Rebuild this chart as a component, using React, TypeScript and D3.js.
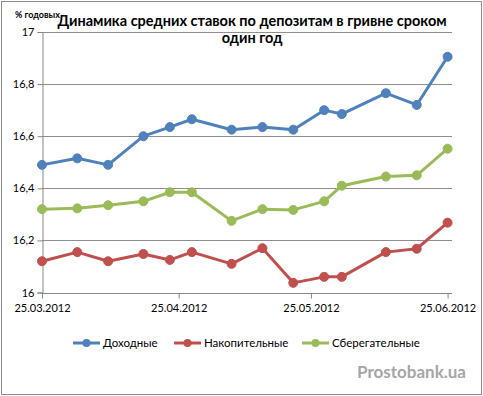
import { useRef, useEffect } from "react";
import * as d3 from "d3";

// dates of the observations (dd.mm.2012)
const dates = [
    "25.03.2012", "02.04.2012", "09.04.2012", "17.04.2012", "23.04.2012", "28.04.2012", "07.05.2012",
    "14.05.2012", "21.05.2012", "28.05.2012", "01.06.2012", "11.06.2012", "18.06.2012", "25.06.2012"
];
const dohodnye = [16.49, 16.515, 16.49, 16.60, 16.635, 16.665, 16.625, 16.635, 16.625, 16.70, 16.685, 16.765, 16.72, 16.905];
const nakopitelnye = [16.12, 16.155, 16.12, 16.148, 16.125, 16.155, 16.11, 16.17, 16.037, 16.06, 16.06, 16.155, 16.168, 16.268];
const sberegatelnye = [16.32, 16.323, 16.335, 16.35, 16.385, 16.385, 16.275, 16.32, 16.317, 16.35, 16.41, 16.445, 16.45, 16.552];

const seriesNames = ["Доходные", "Накопительные", "Сберегательные"];
const yTicks = [16, 16.2, 16.4, 16.6, 16.8, 17];
const xTickLabels = ["25.03.2012", "25.04.2012", "25.05.2012", "25.06.2012"];

const colors = ["#4F81BD", "#C0504D", "#9BBB59"];
const font = "Lato, 'Liberation Sans', sans-serif";

const parse = d3.timeParse("%d.%m.%Y");

const Chart = () => {
    const ref = useRef<HTMLDivElement>(null);

    useEffect(() => {
        const width = 483, height = 396;
        const left = 42, right = 452, top = 32, bottom = 292.5;

        const svg = d3.create("svg")
            .attr("width", width)
            .attr("height", height)
            .style("position", "absolute")
            .style("left", "0px")
            .style("top", "0px")
            .style("font-family", font);

        svg.append("rect")
            .attr("width", width).attr("height", height).attr("fill", "#fff");
        // chart area border
        svg.append("rect")
            .attr("x", 1.5).attr("y", 1.5)
            .attr("width", width - 3).attr("height", height - 3)
            .attr("fill", "none").attr("stroke", "#8c8c8c");

        const x = d3.scaleTime()
            .domain([parse("25.03.2012")!, parse("26.06.2012")!])
            .range([left, right]);
        const y = d3.scaleLinear().domain([16, 17]).range([bottom, top]);

        // gridlines
        svg.append("g")
            .selectAll("line")
            .data(yTicks.slice(1))
            .join("line")
            .attr("x1", left).attr("x2", right)
            .attr("y1", d => Math.round(y(d)) + 0.5).attr("y2", d => Math.round(y(d)) + 0.5)
            .attr("stroke", "#8e8e8e");

        // y axis
        const yAxis = svg.append("g").attr("transform", `translate(${left + 0.5},0)`)
            .call(d3.axisLeft(y).tickValues(yTicks).tickSize(5).tickPadding(3)
                .tickFormat(d => d3.format("")(+d).replace(".", ",")));
        yAxis.selectAll("path, line").attr("stroke", "#868686");
        yAxis.selectAll("text").attr("font-family", font).attr("font-size", 11).attr("fill", "#000");

        // x axis
        const xAxis = svg.append("g").attr("transform", `translate(0,${Math.round(bottom) + 0.5})`)
            .call(d3.axisBottom(x).tickValues(xTickLabels.map(d => parse(d)!)).tickSize(5).tickPadding(6)
                .tickFormat(d => d3.timeFormat("%d.%m.%Y")(d as Date)));
        xAxis.select("path").attr("d", `M${left},0H${right}`);
        xAxis.selectAll("path, line").attr("stroke", "#868686");
        xAxis.selectAll("text").attr("font-family", font).attr("font-size", 11).attr("fill", "#000");

        const xs = dates.map(d => parse(d)!);
        const line = d3.line<number>()
            .x((_, i) => x(xs[i]))
            .y(d => y(d));

        [dohodnye, nakopitelnye, sberegatelnye].forEach((values, s) => {
            const g = svg.append("g");
            g.append("path")
                .attr("d", line(values))
                .attr("fill", "none")
                .attr("stroke", colors[s])
                .attr("stroke-width", 3)
                .attr("stroke-linejoin", "round");
            g.selectAll("circle")
                .data(values)
                .join("circle")
                .attr("cx", (_, i) => x(xs[i]))
                .attr("cy", d => y(d))
                .attr("r", 4.5)
                .attr("fill", colors[s])
                .attr("stroke", colors[s])
                .attr("stroke-width", 1);
        });

        // titles
        svg.append("text")
            .attr("x", 15).attr("y", 18)
            .attr("font-size", 9).attr("font-weight", "bold")
            .text("% годовых");
        const title = svg.append("text")
            .attr("text-anchor", "middle")
            .attr("font-size", 14.5).attr("font-weight", "bold");
        title.append("tspan").attr("x", 252).attr("y", 26)
            .text("Динамика средних ставок по депозитам в гривне сроком");
        title.append("tspan").attr("x", 252).attr("y", 43).text("один год");

        // legend
        const legendX = [73, 174, 302];
        const legend = svg.append("g")
            .selectAll("g")
            .data(seriesNames)
            .join("g")
            .attr("transform", (_, i) => `translate(${legendX[i]},343)`);
        legend.append("line")
            .attr("x1", 0).attr("x2", 27)
            .attr("stroke", (_, i) => colors[i]).attr("stroke-width", 3);
        legend.append("circle")
            .attr("cx", 13.5).attr("r", 4)
            .attr("fill", (_, i) => colors[i]);
        legend.append("text")
            .attr("x", 30).attr("y", 4)
            .attr("font-size", 11.5)
            .text(d => d);

        // watermark
        svg.append("text")
            .attr("x", 466).attr("y", 378)
            .attr("text-anchor", "end")
            .attr("font-size", 17).attr("font-weight", "bold")
            .attr("fill", "#a6a6a6")
            .text("Prostobank.ua");

        ref.current!.appendChild(svg.node()!);
        return () => { svg.node()!.remove(); };
    }, []);

    return <div ref={ref}></div>;
};

export default function App() {
    return <Chart />;
}
